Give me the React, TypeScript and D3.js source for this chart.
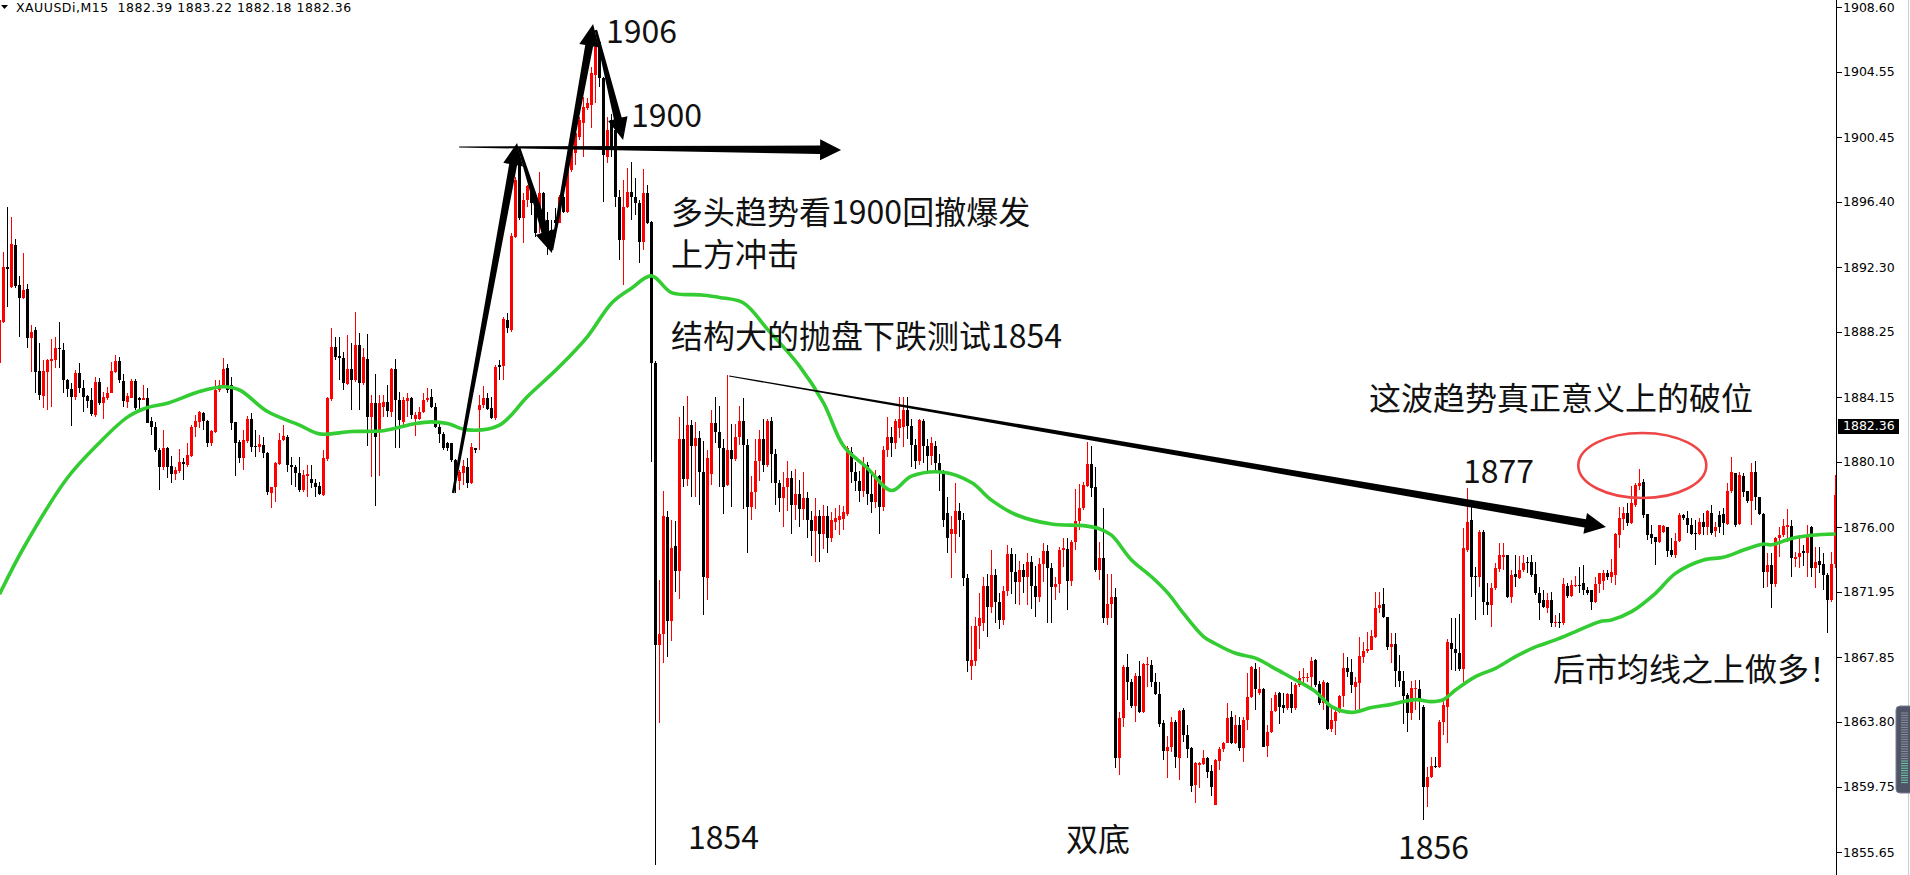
import * as d3 from "d3";

// ---- chart data (XAUUSDi M15) ----
const header = "XAUUSDi,M15  1882.39 1883.22 1882.18 1882.36";
const lastPrice = 1882.36;
const priceTicks = [1908.6, 1904.55, 1900.45, 1896.4, 1892.3, 1888.25, 1884.15, 1880.1, 1876.0, 1871.95, 1867.85, 1863.8, 1859.75, 1855.65];

// [open, high, low, close]
const ohlcRange: number[][] = [
  [1886.27, 1889.1, 1886.2, 1888.99], [1888.88, 1893.27, 1888.78, 1892.33], [1892.33, 1896.09, 1889.82, 1892.16], [1891.08, 1895.46, 1891.0, 1893.73],
  [1893.69, 1894.04, 1890.97, 1891.12], [1891.18, 1891.75, 1887.94, 1890.35], [1890.35, 1893.21, 1890.3, 1890.87], [1890.91, 1891.24, 1887.21, 1887.84],
  [1887.88, 1888.67, 1885.75, 1888.26], [1888.36, 1888.57, 1884.39, 1885.75], [1885.79, 1887.57, 1883.98, 1884.29], [1884.23, 1886.48, 1883.45, 1885.79],
  [1885.75, 1886.52, 1883.35, 1886.48], [1886.44, 1887.8, 1883.56, 1886.55], [1886.48, 1887.94, 1885.96, 1887.21], [1887.23, 1888.88, 1885.96, 1887.15],
  [1887.11, 1887.57, 1884.39, 1885.23], [1885.23, 1885.3, 1884.19, 1884.64], [1884.64, 1885.02, 1882.35, 1884.19], [1884.19, 1885.86, 1883.98, 1885.65],
  [1885.65, 1886.27, 1884.39, 1884.71], [1884.71, 1885.23, 1883.25, 1884.19], [1884.23, 1884.29, 1883.45, 1883.93], [1883.98, 1884.71, 1883.0, 1883.08],
  [1883.04, 1885.4, 1882.93, 1885.08], [1885.08, 1885.33, 1883.66, 1883.77], [1883.81, 1884.5, 1882.77, 1884.19], [1884.08, 1884.77, 1884.0, 1884.39],
  [1884.44, 1886.38, 1884.39, 1885.81], [1885.75, 1886.8, 1885.65, 1886.44], [1886.44, 1886.69, 1885.02, 1885.23], [1885.19, 1885.6, 1883.56, 1883.93],
  [1883.87, 1884.39, 1883.45, 1884.23], [1884.12, 1885.31, 1884.08, 1885.19], [1885.19, 1885.31, 1883.35, 1883.45], [1884.1, 1884.19, 1883.39, 1884.0],
  [1884.0, 1884.92, 1883.98, 1884.1], [1884.08, 1884.71, 1882.52, 1882.56], [1882.66, 1882.93, 1881.78, 1882.31], [1882.31, 1882.62, 1880.74, 1880.84],
  [1880.84, 1880.95, 1878.34, 1879.76], [1879.76, 1882.1, 1879.59, 1880.95], [1880.95, 1881.05, 1879.07, 1879.76], [1879.84, 1880.47, 1878.8, 1879.34],
  [1879.34, 1879.8, 1878.96, 1879.59], [1879.55, 1880.9, 1879.38, 1880.07], [1880.07, 1880.32, 1878.96, 1879.95], [1879.9, 1881.26, 1879.8, 1880.53],
  [1880.47, 1882.41, 1880.43, 1882.31], [1882.27, 1883.04, 1881.68, 1882.68], [1882.62, 1883.29, 1882.2, 1883.2], [1883.18, 1883.2, 1882.1, 1882.68],
  [1882.66, 1882.72, 1881.05, 1881.26], [1881.26, 1882.1, 1881.09, 1882.03], [1881.99, 1885.23, 1881.89, 1884.6], [1884.6, 1885.23, 1884.5, 1884.92],
  [1884.92, 1886.59, 1884.9, 1885.9], [1885.96, 1886.21, 1884.39, 1884.6], [1884.92, 1885.44, 1882.1, 1882.56], [1882.62, 1882.62, 1879.21, 1881.3],
  [1881.36, 1881.47, 1880.0, 1880.32], [1880.32, 1882.1, 1879.59, 1881.47], [1881.43, 1882.98, 1881.26, 1882.77], [1882.77, 1883.14, 1880.74, 1881.05],
  [1881.09, 1882.1, 1880.43, 1881.05], [1881.05, 1881.78, 1880.74, 1881.22], [1881.15, 1881.68, 1880.32, 1880.63], [1880.63, 1880.74, 1878.02, 1878.23],
  [1878.13, 1878.54, 1877.19, 1878.5], [1878.5, 1880.11, 1877.61, 1880.0], [1879.97, 1881.89, 1879.9, 1881.47], [1881.47, 1882.41, 1881.43, 1881.72],
  [1881.68, 1881.78, 1879.48, 1879.9], [1879.9, 1880.38, 1878.65, 1879.8], [1879.76, 1879.9, 1878.55, 1879.42], [1879.42, 1880.43, 1878.23, 1878.34],
  [1878.34, 1879.59, 1878.23, 1879.28], [1879.21, 1879.9, 1877.92, 1879.36], [1879.0, 1879.9, 1878.44, 1878.75], [1878.8, 1879.0, 1877.88, 1878.5],
  [1878.59, 1878.86, 1878.02, 1878.07], [1878.02, 1880.84, 1877.96, 1880.32], [1880.26, 1884.19, 1880.17, 1884.08], [1884.02, 1888.47, 1883.93, 1887.32],
  [1887.32, 1887.94, 1886.48, 1886.69], [1886.75, 1887.94, 1885.23, 1886.59], [1886.59, 1886.96, 1884.6, 1885.02], [1884.98, 1888.05, 1884.92, 1885.92],
  [1885.92, 1887.57, 1883.35, 1885.23], [1885.23, 1889.51, 1885.12, 1887.42], [1887.42, 1888.15, 1883.35, 1885.02], [1885.02, 1887.21, 1884.92, 1886.69],
  [1886.52, 1888.11, 1881.09, 1882.93], [1882.93, 1884.29, 1879.17, 1883.77], [1883.77, 1885.6, 1877.33, 1881.68], [1881.99, 1884.29, 1879.21, 1883.77],
  [1883.56, 1884.29, 1882.93, 1883.87], [1883.83, 1884.92, 1882.93, 1883.29], [1883.25, 1885.96, 1882.93, 1885.92], [1885.92, 1886.52, 1880.95, 1883.98],
  [1883.98, 1884.5, 1880.95, 1882.72], [1882.62, 1884.19, 1882.2, 1883.98], [1883.93, 1884.44, 1882.93, 1884.08], [1884.08, 1884.19, 1882.77, 1883.04],
  [1882.77, 1883.25, 1881.72, 1883.04], [1882.77, 1883.56, 1882.72, 1883.25], [1883.25, 1884.44, 1883.14, 1883.98], [1883.98, 1884.71, 1883.87, 1884.08],
  [1884.14, 1884.64, 1883.45, 1883.52], [1883.56, 1883.77, 1882.2, 1882.31], [1882.31, 1882.62, 1881.26, 1881.85], [1881.85, 1881.99, 1880.84, 1880.95],
  [1881.3, 1881.36, 1880.8, 1880.95], [1881.26, 1881.3, 1880.11, 1880.22], [1880.22, 1880.26, 1878.13, 1878.96], [1878.92, 1879.59, 1878.34, 1879.48],
  [1879.42, 1880.22, 1878.65, 1879.84], [1879.76, 1880.32, 1878.44, 1878.75], [1878.75, 1881.3, 1878.71, 1881.05], [1880.95, 1880.99, 1880.63, 1880.84],
  [1883.35, 1884.29, 1880.85, 1883.67], [1883.67, 1884.82, 1883.46, 1884.08], [1884.08, 1884.4, 1883.35, 1883.4], [1883.46, 1884.19, 1882.77, 1882.83],
  [1882.83, 1886.17, 1882.73, 1886.07],
];

const ohlcRally: number[][] = [
  [1886.17, 1886.49, 1885.23, 1886.03], [1886.11, 1889.2, 1885.23, 1889.03], [1888.99, 1889.41, 1888.2, 1888.47], [1888.37, 1894.42, 1888.26, 1894.26],
  [1894.21, 1897.97, 1894.11, 1897.76], [1898.8, 1899.22, 1895.26, 1895.36], [1895.36, 1896.97, 1893.8, 1896.51], [1896.51, 1897.45, 1896.09, 1897.39],
  [1897.45, 1897.66, 1895.57, 1896.3], [1896.34, 1896.93, 1894.21, 1894.42], [1896.09, 1898.29, 1894.42, 1896.93], [1896.93, 1897.03, 1895.15, 1895.26],
  [1895.26, 1895.78, 1893.07, 1894.42], [1894.63, 1895.26, 1893.38, 1894.38], [1895.26, 1895.99, 1894.21, 1895.09], [1895.05, 1896.83, 1895.05, 1896.72],
  [1896.72, 1897.14, 1895.68, 1895.78], [1895.78, 1899.02, 1895.68, 1898.6], [1898.39, 1900.02, 1898.29, 1899.85], [1899.43, 1901.11, 1898.7, 1900.69],
  [1900.48, 1901.73, 1900.27, 1901.52], [1901.32, 1902.99, 1899.23, 1902.36], [1902.26, 1902.88, 1902.15, 1902.57], [1902.46, 1904.87, 1901.0, 1904.45],
  [1904.34, 1906.22, 1902.57, 1906.12], [1906.43, 1906.54, 1903.61, 1904.14], [1904.14, 1904.24, 1896.41, 1899.33], [1899.23, 1901.73, 1898.81, 1900.9],
  [1901.52, 1901.9, 1899.2, 1899.64], [1900.9, 1901.11, 1896.09, 1896.72], [1896.72, 1897.14, 1892.75, 1894.0], [1894.0, 1897.76, 1891.18, 1896.09],
  [1896.09, 1898.5, 1895.99, 1897.03], [1897.03, 1898.91, 1895.26, 1896.72], [1896.72, 1897.87, 1895.57, 1896.3], [1896.34, 1896.51, 1892.54, 1893.9],
  [1893.9, 1898.45, 1893.38, 1896.93], [1896.93, 1897.45, 1895.0, 1895.05], [1895.15, 1895.2, 1880.1, 1886.28], [1886.3, 1886.4, 1854.84, 1868.63],
];

const ohlcAfterDrop: number[][] = [
  [1868.63, 1872.7, 1863.72, 1869.31], [1869.31, 1878.3, 1867.52, 1876.71], [1876.62, 1877.02, 1867.85, 1870.15], [1870.15, 1876.46, 1868.9, 1874.72],
  [1874.83, 1876.42, 1871.97, 1873.28], [1873.28, 1882.9, 1871.53, 1881.5], [1881.5, 1883.6, 1878.5, 1879.0], [1879.0, 1884.2, 1878.6, 1882.4],
  [1882.4, 1882.7, 1877.9, 1881.1], [1881.1, 1882.6, 1877.9, 1881.6], [1881.6, 1882.0, 1877.4, 1879.45], [1879.45, 1881.4, 1870.5, 1872.91],
  [1872.8, 1880.83, 1871.42, 1880.37], [1879.34, 1883.35, 1878.65, 1882.55], [1882.55, 1884.16, 1881.29, 1881.98], [1881.98, 1883.58, 1878.53, 1880.94],
  [1880.94, 1881.52, 1876.81, 1878.53], [1878.65, 1885.53, 1878.6, 1880.83], [1880.83, 1882.44, 1877.27, 1880.26], [1880.26, 1882.44, 1880.14, 1881.63],
  [1881.63, 1883.58, 1881.17, 1882.67], [1882.67, 1884.09, 1877.16, 1881.17], [1881.17, 1881.52, 1874.4, 1877.27], [1877.27, 1879.22, 1876.47, 1878.19],
  [1878.19, 1881.52, 1877.16, 1880.14], [1880.14, 1882.09, 1878.88, 1881.52], [1881.52, 1882.78, 1879.45, 1879.91], [1879.91, 1882.78, 1879.8, 1882.67],
  [1882.67, 1882.9, 1878.76, 1880.6], [1880.6, 1880.9, 1877.39, 1878.76], [1878.76, 1878.99, 1876.93, 1877.85], [1877.85, 1879.45, 1876.01, 1878.53],
  [1878.53, 1880.14, 1877.04, 1879.1], [1879.1, 1879.5, 1875.55, 1877.39], [1877.39, 1879.68, 1876.47, 1878.07], [1878.07, 1878.99, 1876.01, 1877.16],
  [1877.16, 1879.45, 1876.47, 1877.85], [1877.85, 1878.2, 1875.32, 1876.47], [1876.47, 1877.0, 1874.17, 1875.78], [1875.78, 1877.85, 1873.83, 1876.7],
  [1876.7, 1877.1, 1873.83, 1875.55], [1875.55, 1877.39, 1874.63, 1876.7], [1876.7, 1877.3, 1874.4, 1875.32], [1875.32, 1876.93, 1875.09, 1876.47],
  [1876.3, 1877.2, 1875.8, 1876.58], [1876.47, 1877.4, 1875.5, 1876.7], [1876.5, 1877.3, 1875.8, 1876.93], [1876.81, 1881.06, 1876.7, 1880.94],
  [1880.71, 1881.0, 1878.76, 1879.45], [1879.45, 1880.1, 1878.3, 1878.88], [1878.88, 1879.5, 1877.6, 1878.3], [1878.3, 1880.4, 1877.9, 1879.91],
  [1879.91, 1880.1, 1877.39, 1878.07], [1878.07, 1879.4, 1876.9, 1877.6], [1877.6, 1879.6, 1877.2, 1879.2], [1879.2, 1879.3, 1875.55, 1877.27],
  [1877.27, 1881.06, 1877.0, 1880.83], [1880.83, 1882.9, 1880.4, 1881.63], [1881.63, 1882.3, 1880.4, 1881.29], [1881.29, 1882.78, 1880.9, 1882.67],
  [1882.2, 1884.16, 1881.6, 1882.78], [1882.3, 1884.16, 1881.0, 1883.35], [1883.35, 1884.16, 1881.5, 1882.32], [1882.32, 1882.8, 1879.8, 1881.17],
  [1881.17, 1881.5, 1879.68, 1880.14], [1880.14, 1882.78, 1879.9, 1882.7], [1882.67, 1882.8, 1880.03, 1881.06], [1881.06, 1881.5, 1879.5, 1880.49],
  [1880.49, 1881.63, 1879.9, 1881.29], [1881.06, 1881.4, 1879.6, 1880.03], [1880.03, 1880.6, 1878.3, 1879.45], [1879.45, 1879.6, 1876.0, 1876.47],
  [1876.9, 1877.9, 1874.4, 1875.32], [1875.55, 1876.7, 1872.8, 1875.9], [1875.55, 1878.76, 1874.4, 1877.04], [1877.04, 1877.5, 1875.4, 1876.47],
  [1876.47, 1876.9, 1872.34, 1872.8], [1872.8, 1873.1, 1866.9, 1867.6], [1867.3, 1869.8, 1866.4, 1867.7], [1867.6, 1870.4, 1867.3, 1869.8],
  [1869.8, 1871.9, 1868.4, 1870.3], [1870.0, 1872.9, 1869.5, 1872.3], [1872.3, 1873.1, 1869.1, 1871.0], [1871.0, 1874.6, 1870.6, 1873.0],
  [1873.0, 1873.4, 1870.0, 1871.3], [1871.3, 1871.9, 1869.6, 1870.2], [1870.2, 1872.3, 1869.9, 1872.0], [1872.0, 1874.9, 1871.7, 1874.3],
  [1874.3, 1874.7, 1871.8, 1873.2], [1873.2, 1874.3, 1871.2, 1872.6], [1872.6, 1873.9, 1871.1, 1873.3], [1873.3, 1873.7, 1871.9, 1872.9],
  [1872.9, 1874.4, 1871.1, 1873.8], [1873.8, 1874.2, 1870.9, 1872.3], [1872.3, 1873.6, 1870.4, 1871.6], [1871.6, 1874.1, 1871.3, 1873.7],
  [1873.7, 1875.0, 1872.6, 1874.5], [1874.5, 1874.9, 1870.0, 1873.45],
];

const ohlcDoubleBottom: number[][] = [
  [1873.43, 1873.74, 1869.98, 1872.28], [1872.28, 1872.91, 1871.45, 1872.45], [1872.45, 1874.79, 1871.86, 1874.58], [1874.58, 1875.31, 1873.53, 1874.68],
  [1874.64, 1875.31, 1870.82, 1872.66], [1872.66, 1875.21, 1872.32, 1875.06], [1875.06, 1878.42, 1874.58, 1876.4], [1876.4, 1878.71, 1875.83, 1877.19],
  [1877.19, 1878.86, 1877.08, 1878.65], [1878.59, 1881.37, 1878.55, 1879.97], [1879.97, 1881.09, 1877.92, 1878.44], [1878.5, 1879.76, 1873.22, 1873.32],
  [1873.3, 1875.06, 1872.7, 1874.06], [1874.06, 1877.19, 1869.98, 1870.3], [1870.3, 1873.07, 1869.88, 1871.2], [1871.2, 1873.07, 1870.3, 1871.61],
  [1871.61, 1872.18, 1860.9, 1861.52], [1861.52, 1864.45, 1860.48, 1864.03], [1864.03, 1867.37, 1863.51, 1867.27], [1867.27, 1868.06, 1865.18, 1866.33],
  [1866.33, 1866.5, 1864.66, 1864.82], [1864.82, 1866.85, 1863.82, 1866.68], [1866.68, 1867.62, 1864.34, 1864.45], [1864.41, 1867.52, 1864.34, 1867.44],
  [1867.37, 1867.9, 1866.01, 1867.44], [1867.37, 1867.69, 1866.01, 1866.33], [1866.33, 1866.85, 1865.49, 1865.56], [1865.56, 1866.33, 1863.51, 1863.68],
  [1863.72, 1863.93, 1861.42, 1862.01], [1862.01, 1862.92, 1860.27, 1862.26], [1862.26, 1864.09, 1861.94, 1863.82], [1863.82, 1863.93, 1860.9, 1861.63],
  [1861.57, 1864.55, 1860.17, 1864.51], [1864.55, 1864.66, 1862.57, 1862.99], [1862.99, 1863.61, 1861.52, 1862.11], [1862.15, 1862.26, 1859.44, 1859.79],
  [1859.85, 1861.3, 1858.75, 1861.21], [1861.11, 1861.3, 1859.64, 1861.21], [1861.17, 1862.05, 1861.1, 1861.52], [1861.52, 1861.59, 1860.27, 1860.69],
  [1860.75, 1861.11, 1859.17, 1859.75], [1858.6, 1861.48, 1858.6, 1861.42], [1861.38, 1862.26, 1860.79, 1862.09], [1862.09, 1862.57, 1861.94, 1862.51],
  [1862.51, 1865.01, 1862.46, 1864.03], [1864.09, 1864.51, 1862.4, 1862.46], [1862.46, 1864.24, 1862.4, 1863.61], [1863.61, 1864.09, 1862.01, 1862.15],
  [1862.15, 1864.13, 1861.32, 1863.93], [1863.93, 1866.85, 1863.3, 1865.39], [1865.39, 1867.31, 1865.28, 1867.23], [1867.14, 1867.48, 1864.55, 1865.85],
  [1865.6, 1867.27, 1865.49, 1865.85], [1865.85, 1865.91, 1862.21, 1862.26], [1862.3, 1863.61, 1861.59, 1863.2], [1863.2, 1865.28, 1863.09, 1864.49],
  [1864.49, 1865.7, 1864.45, 1865.49], [1865.6, 1865.7, 1863.68, 1864.76], [1864.87, 1865.6, 1864.39, 1864.66], [1864.66, 1865.6, 1864.55, 1865.56],
  [1865.56, 1866.33, 1864.39, 1864.66], [1864.66, 1866.22, 1864.55, 1866.12], [1866.12, 1867.02, 1866.01, 1866.54], [1866.53, 1867.16, 1866.22, 1866.64],
  [1866.55, 1866.85, 1866.32, 1866.6], [1866.6, 1867.85, 1866.01, 1867.64], [1867.68, 1867.72, 1866.01, 1866.12], [1866.18, 1866.39, 1864.86, 1864.97],
  [1864.97, 1866.43, 1864.55, 1866.32], [1866.26, 1866.32, 1863.3, 1863.34], [1863.34, 1864.65, 1863.19, 1863.92], [1863.88, 1864.76, 1862.98, 1864.45],
  [1864.45, 1865.49, 1864.34, 1865.43], [1865.43, 1868.1, 1864.76, 1867.16], [1867.16, 1867.85, 1866.64, 1866.95], [1866.95, 1867.72, 1865.59, 1866.12],
  [1866.01, 1866.64, 1864.55, 1866.32], [1866.22, 1869.14, 1864.55, 1867.93], [1867.89, 1868.83, 1867.47, 1868.27], [1868.25, 1869.46, 1868.1, 1868.39],
  [1868.31, 1869.56, 1868.31, 1869.19], [1869.14, 1871.96, 1869.04, 1870.92], [1870.92, 1871.96, 1870.61, 1871.13], [1871.17, 1872.17, 1870.29, 1870.36],
  [1870.36, 1870.4, 1868.31, 1868.52], [1868.48, 1869.4, 1867.47, 1868.68], [1868.68, 1869.35, 1866.01, 1867.01], [1867.01, 1868.0, 1865.97, 1866.39],
  [1866.39, 1867.01, 1863.67, 1865.43], [1865.47, 1865.59, 1863.19, 1864.38], [1864.34, 1866.39, 1863.92, 1865.91], [1865.84, 1866.43, 1864.55, 1865.91],
  [1865.84, 1866.43, 1863.92, 1865.18],
];

const ohlcBreakout: number[][] = [
  [1864.72, 1864.86, 1857.66, 1859.75], [1859.75, 1861.0, 1858.49, 1860.37], [1860.37, 1861.63, 1860.27, 1861.04], [1861.04, 1861.6, 1860.89, 1860.96],
  [1860.96, 1863.92, 1860.89, 1863.82], [1863.82, 1865.28, 1862.98, 1864.86], [1864.76, 1868.98, 1862.46, 1868.83], [1868.73, 1870.29, 1867.06, 1868.35],
  [1868.35, 1870.29, 1867.01, 1868.1], [1868.1, 1870.56, 1867.01, 1867.1], [1867.1, 1875.93, 1866.32, 1874.68], [1874.57, 1878.44, 1874.47, 1876.35],
  [1876.45, 1877.25, 1871.65, 1872.9], [1872.95, 1873.53, 1870.19, 1872.86], [1872.86, 1875.8, 1872.28, 1875.72], [1875.72, 1875.83, 1870.5, 1871.34],
  [1871.34, 1872.49, 1870.5, 1871.13], [1871.13, 1872.49, 1869.77, 1872.17], [1872.17, 1873.78, 1872.07, 1873.43], [1873.36, 1875.03, 1873.22, 1874.26],
  [1874.16, 1875.03, 1873.32, 1874.26], [1874.26, 1874.26, 1871.55, 1871.61], [1871.61, 1873.32, 1871.23, 1873.01], [1873.07, 1874.26, 1872.28, 1872.86],
  [1872.8, 1874.2, 1872.74, 1873.32], [1873.32, 1874.26, 1873.22, 1873.78], [1873.84, 1874.16, 1873.11, 1873.74], [1873.84, 1874.26, 1872.86, 1873.01],
  [1873.07, 1873.84, 1871.75, 1871.9], [1871.9, 1872.28, 1870.19, 1871.23], [1871.44, 1872.07, 1870.92, 1870.98], [1870.92, 1871.86, 1870.61, 1871.44],
  [1871.44, 1871.96, 1869.77, 1869.98], [1869.98, 1870.5, 1869.77, 1870.08], [1870.08, 1870.61, 1869.67, 1870.02], [1870.02, 1872.8, 1869.88, 1872.44],
  [1872.34, 1872.49, 1871.55, 1871.69], [1871.69, 1872.69, 1871.65, 1872.38], [1872.34, 1872.95, 1872.28, 1872.4], [1872.4, 1873.53, 1871.86, 1872.34],
  [1872.49, 1873.63, 1871.75, 1872.07], [1872.07, 1872.28, 1871.75, 1871.86], [1872.07, 1872.07, 1870.81, 1871.34], [1871.34, 1872.9, 1871.23, 1872.44],
  [1872.44, 1873.11, 1871.86, 1873.11], [1872.65, 1873.32, 1872.07, 1873.15], [1873.15, 1873.32, 1872.69, 1872.9], [1872.9, 1873.99, 1872.49, 1873.22],
  [1873.01, 1875.66, 1872.38, 1875.58], [1875.51, 1877.25, 1874.68, 1876.56], [1876.5, 1877.25, 1875.83, 1876.87], [1876.87, 1877.5, 1876.08, 1876.25],
  [1876.25, 1878.58, 1876.2, 1877.5], [1877.39, 1878.75, 1877.29, 1878.65], [1878.58, 1879.63, 1878.33, 1878.79], [1878.83, 1879.0, 1876.56, 1876.77],
  [1876.83, 1876.83, 1875.2, 1875.51], [1875.58, 1876.14, 1874.95, 1875.31], [1875.41, 1875.41, 1873.63, 1875.1], [1875.1, 1876.14, 1874.99, 1876.14],
  [1875.72, 1876.14, 1875.62, 1876.08], [1876.0, 1876.04, 1874.16, 1874.53], [1874.57, 1875.31, 1874.16, 1874.26], [1874.26, 1875.62, 1874.05, 1875.16],
  [1875.16, 1876.87, 1875.1, 1876.75], [1876.75, 1876.83, 1876.45, 1876.56], [1876.6, 1877.04, 1875.62, 1876.14], [1876.14, 1876.56, 1875.51, 1875.58],
  [1875.62, 1876.45, 1874.57, 1875.55], [1875.58, 1876.56, 1875.51, 1876.35], [1876.35, 1876.87, 1875.51, 1876.0], [1876.0, 1877.08, 1875.51, 1877.04],
  [1876.92, 1877.39, 1875.51, 1875.62], [1875.79, 1876.35, 1875.41, 1876.04], [1876.75, 1877.04, 1875.62, 1876.0], [1876.83, 1877.19, 1875.51, 1876.25],
  [1876.2, 1878.75, 1876.14, 1878.29], [1878.29, 1880.42, 1878.12, 1879.48], [1879.42, 1879.42, 1876.04, 1876.14], [1876.2, 1879.48, 1876.14, 1879.27],
  [1879.21, 1879.38, 1877.92, 1878.23], [1878.29, 1878.29, 1877.5, 1877.67], [1877.67, 1880.05, 1876.14, 1879.48], [1879.48, 1880.17, 1877.08, 1877.92],
  [1877.88, 1877.92, 1876.77, 1876.83], [1876.83, 1876.87, 1872.17, 1873.22], [1873.22, 1874.37, 1872.28, 1873.63], [1873.63, 1874.37, 1870.92, 1872.44],
  [1872.44, 1875.41, 1872.28, 1875.31], [1875.31, 1876.0, 1874.12, 1875.51], [1875.51, 1876.5, 1875.41, 1876.08], [1876.04, 1877.12, 1875.1, 1876.14],
  [1876.08, 1876.45, 1872.9, 1874.05], [1873.99, 1874.47, 1873.53, 1874.12], [1874.12, 1875.51, 1873.43, 1874.37], [1874.5, 1874.9, 1873.6, 1874.37],
  [1874.37, 1876.14, 1872.9, 1875.51], [1876.04, 1876.08, 1872.9, 1873.43], [1873.43, 1874.78, 1872.17, 1873.84], [1873.91, 1874.78, 1873.11, 1873.63],
  [1873.7, 1874.37, 1872.07, 1873.01], [1873.01, 1873.11, 1869.35, 1871.44], [1871.44, 1874.47, 1871.34, 1873.7], [1873.7, 1879.3, 1873.43, 1878.0],
];

const candles = [...ohlcRange, ...ohlcRally, ...ohlcAfterDrop, ...ohlcDoubleBottom, ...ohlcBreakout];

// green moving average, read at candle indices
const maIdx = [0, 6, 17, 25, 32, 37, 42, 50, 56, 60, 67, 75, 80, 88, 96, 104, 108, 112, 117, 125, 132, 140, 147, 153, 158, 163, 168, 175, 180, 186, 192, 200, 206, 211, 217, 223, 228, 236, 243, 248, 254, 263, 271, 275, 278, 283, 288, 292, 296, 301, 304, 309, 314, 318, 321, 325, 329, 333, 338, 343, 348, 354, 358, 361, 364, 369, 374, 379, 384, 389, 394, 400, 403, 408, 414, 419, 426, 431, 436, 441, 443, 448, 453, 459];
const maVal = [1871.8, 1874.7, 1879.1, 1881.3, 1882.9, 1883.5, 1883.77, 1884.5, 1884.8, 1884.6, 1883.25, 1882.4, 1881.85, 1882.0, 1882.05, 1882.5, 1882.6, 1882.5, 1882.1, 1882.4, 1884.19, 1886.07, 1887.95, 1890.04, 1890.98, 1891.75, 1890.7, 1890.56, 1890.4, 1890.05, 1888.4, 1886.1, 1883.8, 1881.1, 1879.7, 1878.3, 1879.2, 1879.45, 1878.8, 1877.7, 1876.8, 1876.2, 1876.1, 1875.9, 1875.5, 1873.95, 1872.9, 1871.9, 1870.6, 1869.15, 1868.7, 1868.1, 1867.8, 1867.27, 1866.85, 1866.3, 1865.7, 1864.76, 1864.4, 1864.7, 1864.9, 1865.2, 1865.07, 1865.2, 1865.8, 1866.64, 1867.16, 1867.89, 1868.5, 1868.94, 1869.46, 1870.08, 1870.19, 1870.71, 1871.86, 1873.11, 1873.95, 1874.12, 1874.57, 1874.95, 1874.9, 1875.3, 1875.5, 1875.58];

// drawn objects, in (candle index, price)
const arrowLines: [number, number, number, number][] = [
  [113.4, 1878.15, 129.4, 1900.08],
  [129.9, 1899.77, 138.1, 1893.19],
  [138.1, 1893.37, 148.4, 1907.53],
  [149.1, 1907.16, 155.9, 1900.27],
];
const taperedArrows: [number, number, number, number][] = [
  [114.9, 1899.83, 210.4, 1899.64],
  [182.4, 1885.48, 401.6, 1876.02],
];
const circleMark = { i: 410.7, price: 1879.87, di: 16, dp: 2.04 };
const notes: [string, number, number][] = [
  ["1906", 151.6, 1906.34],
  ["1900", 157.9, 1901.08],
  ["多头趋势看1900回撤爆发", 167.9, 1895.0],
  ["上方冲击", 167.9, 1892.4],
  ["结构大的抛盘下跌测试1854", 167.9, 1887.23],
  ["1854", 172.1, 1855.84],
  ["双底", 266.6, 1855.72],
  ["1856", 349.6, 1855.22],
  ["1877", 365.9, 1878.78],
  ["这波趋势真正意义上的破位", 342.4, 1883.35],
  ["后市均线之上做多！", 388.4, 1866.37],
];

const W = 1910;
const H = 875;
const AXIS_X = 1836.5;

function arrowShape(sx: number, sy: number, tx: number, ty: number, w0: number, w1: number, hl: number, hw: number) {
  const dx = tx - sx, dy = ty - sy;
  const len = Math.hypot(dx, dy);
  const ux = dx / len, uy = dy / len;
  const nx = -uy, ny = ux;
  const bx = tx - ux * hl, by = ty - uy * hl;
  const pts: [number, number][] = [
    [sx + nx * w0 / 2, sy + ny * w0 / 2],
    [bx + nx * w1 / 2, by + ny * w1 / 2],
    [bx + nx * hw / 2, by + ny * hw / 2],
    [tx, ty],
    [bx - nx * hw / 2, by - ny * hw / 2],
    [bx - nx * w1 / 2, by - ny * w1 / 2],
    [sx - nx * w0 / 2, sy - ny * w0 / 2],
  ];
  return d3.line()(pts) + "Z";
}

export default function App() {
  const x = d3.scaleLinear().domain([0, candles.length - 1]).range([-0.5, -0.5 + 4 * (candles.length - 1)]);
  const y = d3.scaleLinear().domain([1855.65, 1908.6]).range([852, 7]);

  const maLine = d3.line<number>()
    .x((_, k) => x(maIdx[k]))
    .y((d) => y(d))
    .curve(d3.curveCatmullRom.alpha(0.5));

  const bigFont = "'Noto Sans CJK SC', 'Noto Sans', sans-serif";
  const smallFont = "'DejaVu Sans', Tahoma, sans-serif";

  return (
    <>
      <style>{"body{margin:0;background:#fff}"}</style>
      <svg width={W} height={H} style={{ display: "block", background: "#fff" }}>
        {/* candles */}
        <g shapeRendering="crispEdges">
          {candles.map(([o, h, l, c], i) => {
            const col = Math.floor(x(i));
            const color = c > o ? "#ff0000" : "#000000";
            const top = Math.round(y(Math.max(h, o, c)));
            const bot = Math.round(y(Math.min(l, o, c)));
            const bTop = Math.round(y(Math.max(o, c)));
            const bBot = Math.round(y(Math.min(o, c)));
            return (
              <g key={i} fill={color}>
                <rect x={col} y={top} width={1} height={Math.max(1, bot - top)} />
                <rect x={col - 1} y={bTop} width={3} height={Math.max(1, bBot - bTop)} />
              </g>
            );
          })}
        </g>

        {/* moving average */}
        <path d={maLine(maVal) || ""} fill="none" stroke="#33cc33" strokeWidth={3.6} strokeLinejoin="round" />

        {/* hand drawn arrows */}
        {arrowLines.map(([i0, p0, i1, p1], k) => (
          <path key={"a" + k} d={arrowShape(x(i0), y(p0), x(i1), y(p1), 2.5, 8, 22, 20)} fill="#000" />
        ))}
        {taperedArrows.map(([i0, p0, i1, p1], k) => (
          <path key={"t" + k} d={arrowShape(x(i0), y(p0), x(i1), y(p1), 1, 8.5, 21, 21)} fill="#000" />
        ))}

        {/* red ellipse */}
        <ellipse
          cx={x(circleMark.i)}
          cy={y(circleMark.price)}
          rx={x(circleMark.i + circleMark.di) - x(circleMark.i)}
          ry={y(circleMark.price - circleMark.dp) - y(circleMark.price)}
          fill="none"
          stroke="#ee4646"
          strokeWidth={2.6}
        />

        {/* notes */}
        {notes.map(([t, i, p], k) => (
          <text key={"n" + k} x={x(i)} y={y(p)} fontFamily={bigFont} fontSize={32} fill="#111">
            {t}
          </text>
        ))}

        {/* header */}
        <path d="M1,5 L8,5 L4.5,9 Z" fill="#000" />
        <text x={16} y={12} fontFamily={smallFont} fontSize={12.5} letterSpacing={0.5} fill="#000" style={{ whiteSpace: "pre" }}>
          {header}
        </text>

        {/* price axis */}
        <g shapeRendering="crispEdges">
          <line x1={AXIS_X} x2={AXIS_X} y1={0} y2={H} stroke="#000" />
          <line x1={1908.5} x2={1908.5} y1={0} y2={H} stroke="#cfcfcf" />
          {priceTicks.map((t) => (
            <line key={t} x1={AXIS_X} x2={AXIS_X + 5} y1={Math.round(y(t)) + 0.5} y2={Math.round(y(t)) + 0.5} stroke="#000" />
          ))}
        </g>
        {priceTicks.map((t) => (
          <text key={"l" + t} x={1843} y={y(t)} dy="0.36em" fontFamily={smallFont} fontSize={12.5} fill="#000">
            {t.toFixed(2)}
          </text>
        ))}
        <rect x={1838} y={Math.round(y(lastPrice)) - 7} width={61} height={15} fill="#000" />
        <text x={1843} y={y(lastPrice)} dy="0.36em" fontFamily={smallFont} fontSize={12.5} fill="#fff">
          {lastPrice.toFixed(2)}
        </text>

        {/* scroll widget at the right edge */}
        <g>
          <rect x={1896} y={706} width={18} height={87} rx={4} fill="#4f5566" stroke="#7a8090" />
          {d3.range(0, 30).map((k) => {
            const yy = 713 + k * 2.4;
            const green = yy > 759;
            return <line key={"s" + k} x1={1901} x2={1908} y1={yy} y2={yy} stroke={green ? "#6fc9a8" : "#8b909c"} strokeWidth={1} />;
          })}
        </g>
      </svg>
    </>
  );
}
